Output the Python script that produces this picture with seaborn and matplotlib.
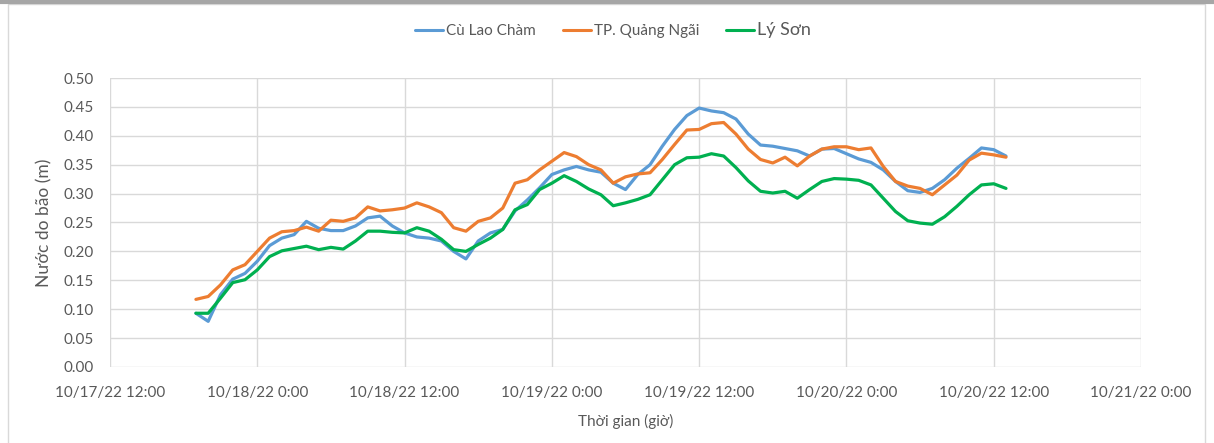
import matplotlib
matplotlib.use("Agg")
import matplotlib.pyplot as plt
import matplotlib.dates as mdates
from matplotlib.ticker import FuncFormatter, MultipleLocator
from matplotlib.patches import Rectangle
import pandas as pd
import seaborn as sns

# Số liệu nước dâng bão theo giờ, 10/17/22 19:00 -> 10/20/22 13:00
thoi_gian = pd.date_range("2022-10-17 19:00", "2022-10-20 13:00", freq="h")

cu_lao_cham = [0.093, 0.079, 0.125, 0.152, 0.162, 0.183, 0.210, 0.223, 0.229, 0.252, 0.240, 0.236, 0.236,
               0.244, 0.258, 0.261, 0.244, 0.232, 0.225, 0.223, 0.218, 0.200, 0.187, 0.218, 0.232, 0.238, 0.270,
               0.289, 0.310, 0.333, 0.341, 0.347, 0.341, 0.337, 0.318, 0.307, 0.333, 0.350, 0.382, 0.411, 0.435,
               0.448, 0.443, 0.440, 0.429, 0.403, 0.384, 0.382, 0.378, 0.374, 0.365, 0.377, 0.378,
               0.369, 0.360, 0.354, 0.341, 0.321, 0.305, 0.302, 0.309, 0.324, 0.344, 0.361, 0.379, 0.376, 0.365]

quang_ngai = [0.117, 0.122, 0.142, 0.168, 0.177, 0.200, 0.223, 0.234, 0.236, 0.242, 0.235, 0.254, 0.252,
              0.258, 0.277, 0.270, 0.272, 0.275, 0.284, 0.277, 0.267, 0.241, 0.235, 0.252, 0.258, 0.275, 0.318,
              0.324, 0.341, 0.356, 0.371, 0.364, 0.350, 0.341, 0.318, 0.329, 0.334, 0.336, 0.359, 0.385, 0.410,
              0.411, 0.421, 0.423, 0.403, 0.377, 0.359, 0.353, 0.363, 0.348, 0.365, 0.377, 0.381,
              0.381, 0.376, 0.379, 0.347, 0.321, 0.313, 0.309, 0.298, 0.315, 0.332, 0.358, 0.370, 0.367, 0.363]

ly_son = [0.093, 0.093, 0.119, 0.146, 0.151, 0.168, 0.191, 0.201, 0.205, 0.209, 0.203, 0.207, 0.204,
          0.218, 0.235, 0.235, 0.233, 0.232, 0.241, 0.235, 0.221, 0.203, 0.200, 0.212, 0.223, 0.238, 0.272,
          0.281, 0.307, 0.318, 0.331, 0.321, 0.308, 0.298, 0.279, 0.284, 0.290, 0.298, 0.324, 0.350, 0.362,
          0.363, 0.369, 0.365, 0.345, 0.322, 0.304, 0.301, 0.304, 0.292, 0.307, 0.321, 0.326,
          0.325, 0.323, 0.315, 0.292, 0.269, 0.253, 0.249, 0.247, 0.260, 0.278, 0.298, 0.315, 0.317, 0.309]

ten_tram = ["Cù Lao Chàm", "TP. Quảng Ngãi", "Lý Sơn"]
mau = ["#5B9BD5", "#ED7D31", "#00B050"]

df = pd.concat([
    pd.DataFrame({"Thời gian": thoi_gian, "Nước dâng": v, "Trạm": ten})
    for ten, v in zip(ten_tram, [cu_lao_cham, quang_ngai, ly_son])
])

sns.set_style("white")
plt.rcParams["font.family"] = ["Lato", "DejaVu Sans"]

fig = plt.figure(figsize=(12.14, 4.43), dpi=100)
ax = fig.add_axes([110 / 1214, 1 - 367 / 443, (1141 - 110) / 1214, (367 - 78) / 443])

sns.lineplot(data=df, x="Thời gian", y="Nước dâng", hue="Trạm", hue_order=ten_tram,
             palette=mau, linewidth=2.3, ax=ax, legend=False,
             solid_joinstyle="round", solid_capstyle="round")

ax.set_xlim(pd.Timestamp("2022-10-17 12:00"), pd.Timestamp("2022-10-21 00:00"))
ax.set_ylim(0, 0.5)
ax.yaxis.set_major_locator(MultipleLocator(0.05))
ax.yaxis.set_major_formatter(FuncFormatter(lambda v, p: f"{v:.2f}"))
ax.xaxis.set_major_locator(mdates.HourLocator(byhour=[0, 12]))
ax.xaxis.set_major_formatter(FuncFormatter(
    lambda v, p: (lambda d: f"{d.month}/{d.day}/{d:%y} {d.hour}:{d:%M}")(mdates.num2date(v))))

ax.grid(True, color="#D9D9D9", linewidth=1)
for s in ax.spines.values():
    s.set_visible(False)
ax.tick_params(axis="both", length=0, labelsize=11, colors="#595959")
ax.tick_params(axis="x", pad=14)
ax.tick_params(axis="y", pad=12)

ax.set_xlabel("Thời gian (giờ)", fontsize=11, color="#595959", labelpad=10)
ax.set_ylabel("Nước do bão (m)", fontsize=12.5, color="#595959", labelpad=8)

handles = [plt.Line2D([], [], color=c, linewidth=2.2) for c in mau]
leg = fig.legend(handles, ten_tram, loc="center", bbox_to_anchor=(0.505, 1 - 30 / 443),
                 ncol=3, frameon=False, fontsize=11, handlelength=1.8, handletextpad=0.2,
                 columnspacing=1.8)
for t in leg.get_texts():
    t.set_color("#595959")
leg.get_texts()[2].set_fontsize(13)

# khung ngoài của biểu đồ
fig.add_artist(Rectangle((8 / 1214, -0.01), 1197 / 1214, 1.0, transform=fig.transFigure,
                         fill=False, edgecolor="#D9D9D9", linewidth=1))
fig.add_artist(plt.Line2D([0, 1], [0.995, 0.995], transform=fig.transFigure,
                          color="#A6A6A6", linewidth=3))

fig.savefig("out.png", dpi=100)
